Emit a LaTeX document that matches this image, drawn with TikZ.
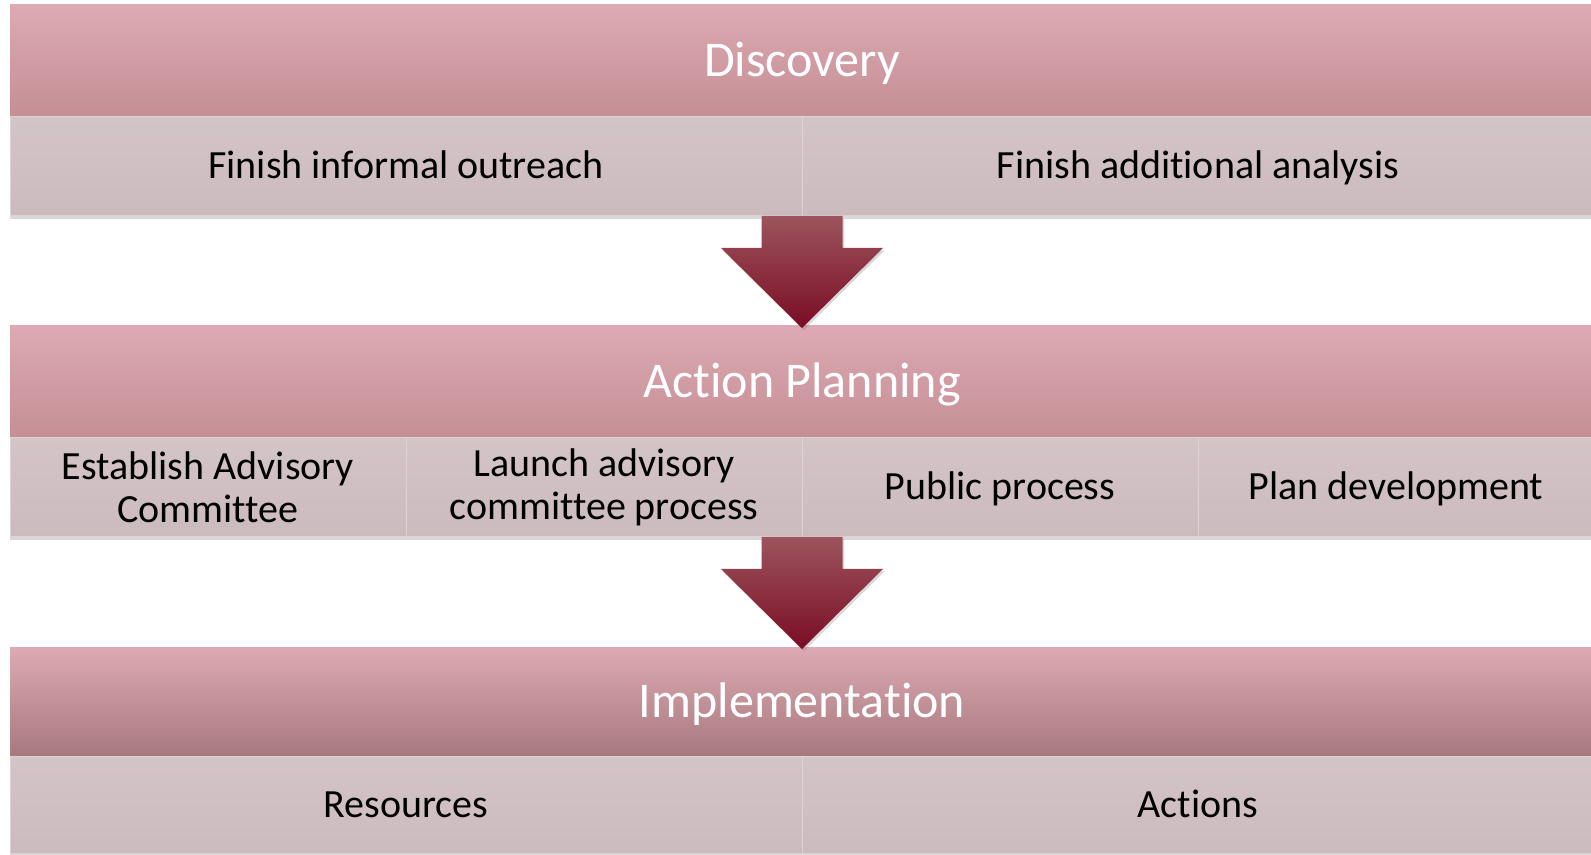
\documentclass[tikz,border=0pt]{standalone}
\usepackage{fontspec}
\setmainfont{Carlito}[Ligatures=NoCommon]
\usetikzlibrary{calc}
\usetikzlibrary{shadows}

\definecolor{stagetop}{HTML}{DDAAB3}
\definecolor{stagemid}{HTML}{D29FA6}
\definecolor{stagebot}{HTML}{C48E94}
\definecolor{tasktop}{HTML}{D3C4C7}
\definecolor{taskbot}{HTML}{CCBBBE}
\definecolor{taskline}{HTML}{DDD2D4}
\definecolor{flowtop}{HTML}{9C545D}
\definecolor{flowbot}{HTML}{7A0C25}

\tikzset{
  stage/.style={minimum width=792pt, inner sep=0pt, outer sep=0pt,
    top color=stagetop, middle color=stagemid, bottom color=stagebot,
    text=white, font=\fontsize{25}{29}\selectfont,
    text height=22.25pt, text depth=6.25pt},
  task/.style={minimum height=49.5pt, inner sep=0pt, outer sep=0pt,
    top color=tasktop, bottom color=taskbot, draw=taskline, line width=0.5pt,
    align=center, font=\fontsize{20}{21.5}\selectfont,
    drop shadow={shadow xshift=0pt, shadow yshift=-1.5pt, opacity=0.3}},
  onetask/.style={task, text height=17.5pt, text depth=5pt},
  flow/.style={top color=flowtop, bottom color=flowbot,
    drop shadow={shadow xshift=0.8pt, shadow yshift=-1.2pt, opacity=0.3}}
}

\begin{document}
\begin{tikzpicture}[x=0.5pt,y=-0.5pt]
\useasboundingbox[fill=white] (0,0) rectangle (1591,855);

% Discovery
\node[stage, minimum height=56pt] (disc) at (802,61) {Discovery};
\node[onetask, minimum width=396pt] (discA) at (406,166.5) {Finish informal outreach};
\node[onetask, minimum width=396pt] (discB) at (1198,166.5) {Finish additional analysis};

% Action Planning
\node[stage, minimum height=56pt] (act) at (802,382) {Action Planning};
\node[task, minimum width=198pt] (actA) at (208,487.5) {Establish Advisory\\Committee};
\node[task, minimum width=198pt] (actB) at (604,487.5) {Launch advisory\\committee process};
\node[onetask, minimum width=198pt] (actC) at (1000,487.5) {Public process};
\node[onetask, minimum width=198pt] (actD) at (1396,487.5) {Plan development};

% Implementation
\node[stage, minimum height=54.5pt, bottom color=stagebot!85!black] (impl) at (802,701.5) {Implementation};
\node[onetask, minimum width=396pt, minimum height=48.5pt] (implA) at (406,804.5) {Resources};
\node[onetask, minimum width=396pt, minimum height=48.5pt] (implB) at (1198,804.5) {Actions};

% arrows between stages
\path[flow] ($(discA.south east)+(-40.5,0)$) -- ++(0,32) -- ++(-40.5,0)
  -- ($(act.north)+(0,2)$) -- ($(discA.south east)+(81,32)$) -- ++(-40.5,0)
  -- ++(0,-32) -- cycle;
\path[flow] ($(actB.south east)+(-40.5,0)$) -- ++(0,32) -- ++(-40.5,0)
  -- ($(impl.north)+(0,2)$) -- ($(actB.south east)+(81,32)$) -- ++(-40.5,0)
  -- ++(0,-32) -- cycle;
\end{tikzpicture}
\end{document}
